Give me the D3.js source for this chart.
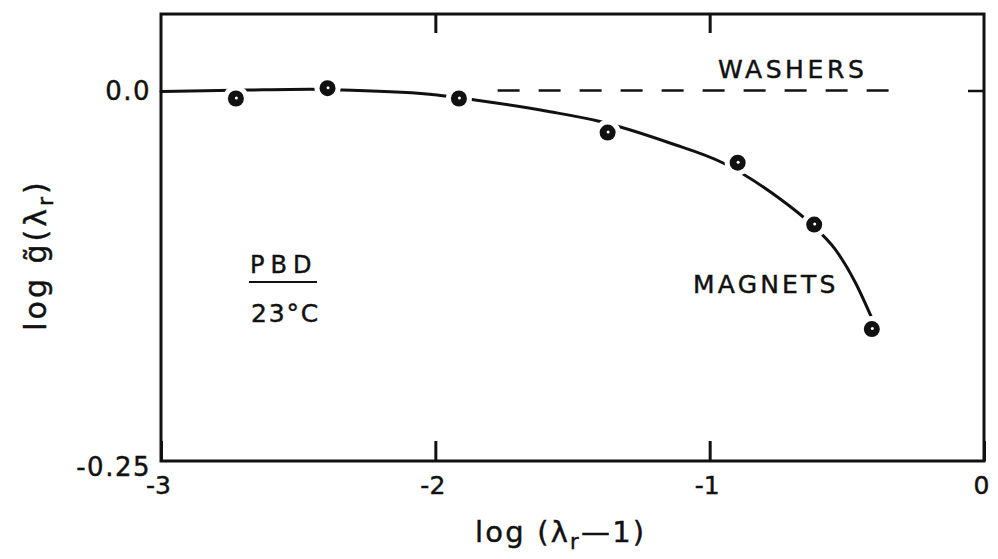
<!DOCTYPE html>
<html>
<head>
<meta charset="utf-8">
<script src="https://cdn.jsdelivr.net/npm/d3@7"></script>
<style>
  html, body { margin: 0; padding: 0; background: #fff; }
  svg { display: block; }
  text { font-family: "DejaVu Sans", "Liberation Sans", sans-serif; fill: #111; stroke: #111; stroke-width: 0.45px; }
</style>
</head>
<body>
<svg id="chart" width="998" height="559"></svg>
<script>
// Measured points: log(lambda_r - 1) vs log g~(lambda_r), PBD at 23 C
const pointX = [-2.727, -2.393, -1.914, -1.372, -0.898, -0.619, -0.409];
const pointY = [-0.0054, 0.0016, -0.0054, -0.0284, -0.0487, -0.0905, -0.161];

// Smooth "magnets" curve drawn through the data
const curveX = [-3.0, -2.687, -2.457, -2.337, -1.994, -1.855, -1.582, -1.400, -1.145, -0.951, -0.773, -0.623, -0.543, -0.470, -0.409];
const curveY = [-0.0007, 0.0003, 0.0008, 0.0003, -0.0030, -0.0064, -0.0143, -0.0209, -0.0354, -0.0489, -0.0692, -0.0914, -0.1070, -0.1292, -0.1535];

// "Washers" reference level (dashed)
const washersX = [-1.773, -0.303];
const washersY = [0, 0];

// Axis ticks
const xTicks = [-3, -2, -1, 0];
const xTickLabels = ["-3", "-2", "-1", "0"];
const yTicks = [0, -0.25];
const yTickLabels = ["0.0", "-0.25"];
const yTop = 0.0516;

const svg = d3.select("#chart");
const x = d3.scaleLinear().domain([-3, 0]).range([161, 984]);
const y = d3.scaleLinear().domain([-0.25, 0]).range([461, 90.5]);

const ink = "#111";

// Frame
svg.append("rect")
  .attr("x", x(-3)).attr("y", y(yTop))
  .attr("width", x(0) - x(-3)).attr("height", y(-0.25) - y(yTop))
  .attr("fill", "none").attr("stroke", ink).attr("stroke-width", 3);

// Bottom axis: inward ticks, labels below
const axBottom = svg.append("g")
  .attr("transform", `translate(0,${y(-0.25)})`)
  .call(d3.axisBottom(x).tickValues(xTicks).tickSize(-20)
        .tickFormat((d, i) => xTickLabels[i]));
axBottom.select(".domain").remove();
axBottom.selectAll(".tick line").attr("stroke", ink).attr("stroke-width", 3);
axBottom.selectAll(".tick text")
  .attr("y", 33).attr("dy", 0).attr("dx", -3)
  .style("font-size", "25px").style("font-family", "DejaVu Sans").attr("fill", ink);

// Top axis: inward ticks only
const axTop = svg.append("g")
  .attr("transform", `translate(0,${y(yTop)})`)
  .call(d3.axisTop(x).tickValues([-2, -1]).tickSize(-19).tickFormat(""));
axTop.select(".domain").remove();
axTop.selectAll(".tick line").attr("stroke", ink).attr("stroke-width", 3);

// Right axis: inward tick at zero
const axRight = svg.append("g")
  .attr("transform", `translate(${x(0)},0)`)
  .call(d3.axisRight(y).tickValues([0]).tickSize(-16).tickFormat(""));
axRight.select(".domain").remove();
axRight.selectAll(".tick line").attr("stroke", ink).attr("stroke-width", 2.5);

// Left axis labels
const axLeft = svg.append("g")
  .attr("transform", `translate(${x(-3)},0)`)
  .call(d3.axisLeft(y).tickValues(yTicks).tickSize(0).tickPadding(10)
        .tickFormat((d, i) => yTickLabels[i]));
axLeft.select(".domain").remove();
axLeft.selectAll(".tick text")
  .style("font-size", "26px").style("font-family", "DejaVu Sans").attr("fill", ink)
  .style("letter-spacing", "1.5px")
  .attr("dy", (d) => d === 0 ? "0.36em" : "0.55em");

// Washers dashed level
svg.append("path")
  .datum(washersX.map((v, i) => [v, washersY[i]]))
  .attr("d", d3.line().x(d => x(d[0])).y(d => y(d[1])))
  .attr("fill", "none").attr("stroke", ink).attr("stroke-width", 2.5)
  .attr("stroke-dasharray", "22,19");

// Magnets curve
svg.append("path")
  .datum(curveX.map((v, i) => [v, curveY[i]]))
  .attr("d", d3.line().x(d => x(d[0])).y(d => y(d[1])).curve(d3.curveMonotoneX))
  .attr("fill", "none").attr("stroke", ink).attr("stroke-width", 3)
  .attr("stroke-linecap", "round");

// Markers with a white gap around them
const pts = pointX.map((v, i) => [v, pointY[i]]);
svg.append("g").selectAll("circle").data(pts).join("circle")
  .attr("cx", d => x(d[0])).attr("cy", d => y(d[1])).attr("r", 13).attr("fill", "#fff");
svg.append("g").selectAll("circle").data(pts).join("circle")
  .attr("cx", d => x(d[0])).attr("cy", d => y(d[1])).attr("r", 8).attr("fill", ink);
svg.append("g").selectAll("circle").data(pts).join("circle")
  .attr("cx", d => x(d[0]) + 0.5).attr("cy", d => y(d[1]) - 0.5).attr("r", 1.5).attr("fill", "#fff");

// Annotations
const label = (tx, ty, str, size, ls) => svg.append("text")
  .attr("x", tx).attr("y", ty).text(str)
  .style("font-size", size + "px").style("letter-spacing", ls + "px");

label(718, 78, "WASHERS", 25, 3.6);
label(693, 293, "MAGNETS", 25, 3.2);
label(250, 273, "PBD", 24, 6);
svg.append("line").attr("x1", 249).attr("x2", 317).attr("y1", 282).attr("y2", 282)
  .attr("stroke", ink).attr("stroke-width", 2);
label(251, 322, "23°C", 25, 1.8);

// Axis titles
const xt = svg.append("text").attr("x", 475).attr("y", 542)
  .style("font-size", "29px").style("letter-spacing", "2.2px");
xt.append("tspan").text("log (λ");
xt.append("tspan").text("r").attr("dy", 7).style("font-size", "21px");
xt.append("tspan").text("—1)").attr("dy", -7);

const yt = svg.append("text")
  .attr("transform", "translate(46,255) rotate(-90)")
  .attr("text-anchor", "middle")
  .style("font-size", "30px").style("letter-spacing", "3px");
yt.append("tspan").text("log g\u0303(λ");
yt.append("tspan").text("r").attr("dy", 7).style("font-size", "22px");
yt.append("tspan").text(")").attr("dy", -7);
</script>
</body>
</html>
